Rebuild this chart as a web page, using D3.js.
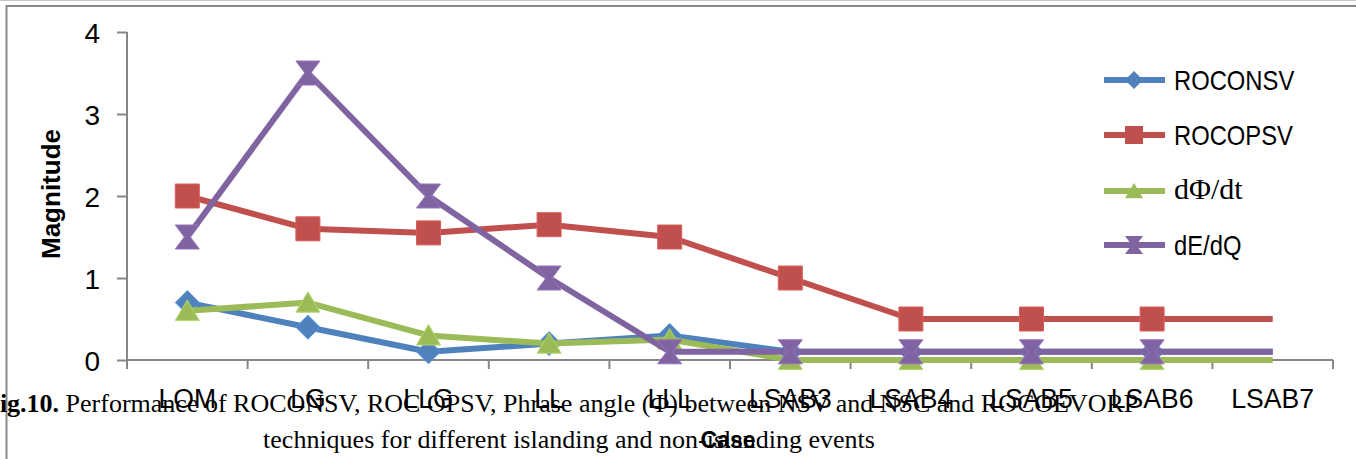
<!DOCTYPE html>
<html>
<head>
<meta charset="utf-8">
<script src="https://cdn.jsdelivr.net/npm/d3@7/dist/d3.min.js"></script>
<style>
  html, body { margin: 0; padding: 0; background: #fff; }
  svg { display: block; }
</style>
</head>
<body>
<svg id="chart" width="1356" height="459"></svg>
<script>
// Case labels along the x axis
const categories = ["LOM", "LG", "LLG", "LL", "LLL", "LSAB3", "LSAB4", "LSAB5", "LSAB6", "LSAB7"];

// Series values per case
const roconsv = [0.7, 0.4, 0.1, 0.2, 0.3, 0.1, 0.1, 0.1, 0.1, 0.1];
const rocopsv = [2.0, 1.6, 1.55, 1.65, 1.5, 1.0, 0.5, 0.5, 0.5, 0.5];
const dPhiDt  = [0.6, 0.7, 0.3, 0.2, 0.25, 0, 0, 0, 0, 0];
const dEdQ    = [1.5, 3.5, 2.0, 1.0, 0.1, 0.1, 0.1, 0.1, 0.1, 0.1];

const seriesNames = ["ROCONSV", "ROCOPSV", "dΦ/dt", "dE/dQ"];
const yTicks = [0, 1, 2, 3, 4];

const series = [
  { name: seriesNames[0], values: roconsv, color: "#4F81BD", marker: "diamond" },
  { name: seriesNames[1], values: rocopsv, color: "#C0504D", marker: "square" },
  { name: seriesNames[2], values: dPhiDt,  color: "#9BBB59", marker: "triangle", serif: true },
  { name: seriesNames[3], values: dEdQ,    color: "#8064A2", marker: "hourglass" }
];

const svg = d3.select("#chart");
const axisColor = "#868686";
const sans = "'Liberation Sans', Arial, sans-serif";
const serif = "'Liberation Serif', 'Times New Roman', serif";

// Outer frame
svg.append("line").attr("x1", 0).attr("x2", 1356).attr("y1", 0.5).attr("y2", 0.5)
  .attr("stroke", "#c8c8c8").attr("stroke-width", 1);
svg.append("line").attr("x1", 6).attr("x2", 1356).attr("y1", 6).attr("y2", 6)
  .attr("stroke", "#8a8a8a").attr("stroke-width", 2);
svg.append("line").attr("x1", 6.5).attr("x2", 6.5).attr("y1", 5).attr("y2", 459)
  .attr("stroke", "#8a8a8a").attr("stroke-width", 2);

// Scales
const x = d3.scaleBand().domain(categories).range([127, 1333]).padding(0);
const y = d3.scaleLinear().domain([0, 4]).range([360, 32]);
const cx = d => x(d) + x.bandwidth() / 2;

// Caption (under the plot, partly overlapped by the axis labels)
const cap = svg.append("g").attr("font-family", serif).attr("font-size", 26).attr("fill", "#000");
const line1 = cap.append("text").attr("x", -16).attr("y", 412);
line1.append("tspan").attr("font-weight", "bold").text("Fig.10.");
line1.append("tspan").text(" Performance of ROCONSV, ROC OPSV,  Phrase angle (Φ) between NSV and NSC and ROCOEVORP");
cap.append("text").attr("x", 569).attr("y", 448).attr("text-anchor", "middle")
  .text("techniques for different islanding and non-islanding events");

// Y axis
const yAxis = svg.append("g").attr("transform", "translate(127,0)")
  .call(d3.axisLeft(y).tickValues(yTicks).tickSize(10).tickPadding(17).tickFormat(d3.format("d")));
yAxis.select(".domain").attr("stroke", axisColor).attr("stroke-width", 2).attr("d", "M0,32V360");
yAxis.selectAll(".tick line").attr("stroke", axisColor).attr("stroke-width", 2);
yAxis.selectAll(".tick text").attr("font-family", sans).attr("font-size", 28).attr("fill", "#000")
  .attr("dy", "0.36em");

// X axis with ticks on band boundaries
const xAxis = svg.append("g").attr("transform", "translate(0,360)");
xAxis.append("line").attr("x1", 127).attr("x2", 1333).attr("y1", 0).attr("y2", 0)
  .attr("stroke", axisColor).attr("stroke-width", 2);
const bounds = categories.map(c => x(c)).concat([x.range()[1]]);
xAxis.selectAll("line.tk").data(bounds).join("line").attr("class", "tk")
  .attr("x1", d => d).attr("x2", d => d).attr("y1", 0).attr("y2", 9)
  .attr("stroke", axisColor).attr("stroke-width", 2);
xAxis.selectAll("text.cat").data(categories).join("text").attr("class", "cat")
  .attr("transform", d => `translate(${cx(d)},48) scale(0.95,1)`).attr("text-anchor", "middle")
  .attr("font-family", sans).attr("font-size", 28).attr("fill", "#000")
  .text(d => d);

// Axis titles
svg.append("text").attr("transform", "translate(60,194) rotate(-90)")
  .attr("text-anchor", "middle").attr("font-family", sans).attr("font-weight", "bold")
  .attr("font-size", 26).attr("fill", "#000").text("Magnitude");
svg.append("text").attr("x", 728).attr("y", 448).attr("text-anchor", "middle")
  .attr("font-family", sans).attr("font-weight", "bold").attr("font-size", 23)
  .attr("fill", "#000").text("Case");

// Marker shapes
function markerPath(type, s) {
  const h = s / 2;
  switch (type) {
    case "diamond": return `M0,${-h}L${h},0L0,${h}L${-h},0Z`;
    case "square": return `M${-h},${-h}H${h}V${h}H${-h}Z`;
    case "triangle": return `M0,${-h * 0.9}L${h},${h * 0.8}L${-h},${h * 0.8}Z`;
    case "hourglass": return `M${-h},${-h}H${h}L${h * 0.25},0L${h},${h}H${-h}L${-h * 0.25},0Z`;
  }
}

const line = d3.line().x((d, i) => cx(categories[i])).y(d => y(d));

// Series lines and markers (last case has no marker)
series.forEach(s => {
  const g = svg.append("g");
  g.append("path").attr("d", line(s.values)).attr("fill", "none")
    .attr("stroke", s.color).attr("stroke-width", 6).attr("stroke-linejoin", "round");
  g.selectAll("path.mk").data(s.values.slice(0, categories.length - 1)).join("path")
    .attr("class", "mk")
    .attr("transform", (d, i) => `translate(${cx(categories[i])},${y(d)})`)
    .attr("d", markerPath(s.marker, 24))
    .attr("fill", s.color).attr("stroke", d3.color(s.color).brighter(0.4)).attr("stroke-width", 1);
});

// Legend
const legend = svg.append("g");
const rowY = [80, 135, 191, 245];
series.forEach((s, i) => {
  const g = legend.append("g").attr("transform", `translate(0,${rowY[i]})`);
  g.append("line").attr("x1", 1104).attr("x2", 1165).attr("y1", 0).attr("y2", 0)
    .attr("stroke", s.color).attr("stroke-width", 6);
  g.append("path").attr("transform", "translate(1134,0)").attr("d", markerPath(s.marker, 18))
    .attr("fill", s.color);
  g.append("text")
    .attr("transform", s.serif ? "translate(1174,8)" : "translate(1174,10) scale(0.85,1)")
    .attr("font-family", s.serif ? serif : sans).attr("font-size", s.serif ? 30 : 28)
    .attr("fill", "#000").text(s.name);
});
</script>
</body>
</html>
